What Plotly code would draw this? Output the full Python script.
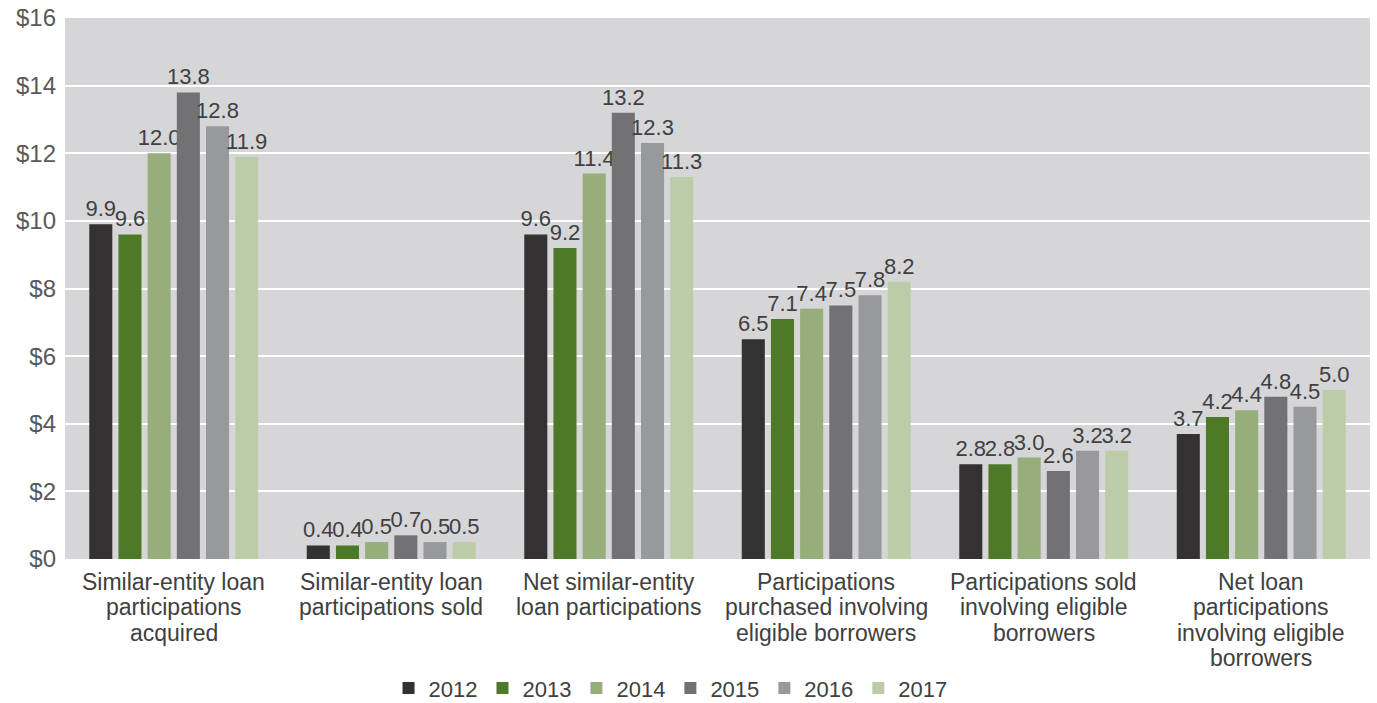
import plotly.graph_objects as go

categories = [
    "Similar-entity loan participations acquired",
    "Similar-entity loan participations sold",
    "Net similar-entity loan participations",
    "Participations purchased involving eligible borrowers",
    "Participations sold involving eligible borrowers",
    "Net loan participations involving eligible borrowers",
]
category_lines = [
    ["Similar-entity loan", "participations", "acquired"],
    ["Similar-entity loan", "participations sold"],
    ["Net similar-entity", "loan participations"],
    ["Participations", "purchased involving", "eligible borrowers"],
    ["Participations sold", "involving eligible", "borrowers"],
    ["Net loan", "participations", "involving eligible", "borrowers"],
]
years = ["2012", "2013", "2014", "2015", "2016", "2017"]
values = {
    "2012": [9.9, 0.4, 9.6, 6.5, 2.8, 3.7],
    "2013": [9.6, 0.4, 9.2, 7.1, 2.8, 4.2],
    "2014": [12.0, 0.5, 11.4, 7.4, 3.0, 4.4],
    "2015": [13.8, 0.7, 13.2, 7.5, 2.6, 4.8],
    "2016": [12.8, 0.5, 12.3, 7.8, 3.2, 4.5],
    "2017": [11.9, 0.5, 11.3, 8.2, 3.2, 5.0],
}
colors = ["#333132", "#4e7a27", "#96ad7c", "#727275", "#97999b", "#bccca8"]
y_ticks = [0, 2, 4, 6, 8, 10, 12, 14, 16]
y_ticklabels = ["$0", "$2", "$4", "$6", "$8", "$10", "$12", "$14", "$16"]

font_family = "Liberation Sans, Arial, sans-serif"
text_color = "#404040"

fig = go.Figure()
for yr, col in zip(years, colors):
    vals = values[yr]
    fig.add_trace(go.Bar(
        name=yr,
        x=categories,
        y=vals,
        marker=dict(color=col, line=dict(width=0)),
        text=[f"{v:.1f}" for v in vals],
        textposition="outside",
        constraintext="none",
        cliponaxis=False,
        textfont=dict(size=22, color=text_color, family=font_family),
    ))

# Category labels, one annotation per line for tight line spacing
annotations = []
for cat, lines in zip(categories, category_lines):
    for i, line in enumerate(lines):
        annotations.append(dict(
            x=cat, xref="x",
            y=0, yref="paper",
            yanchor="middle",
            yshift=-(23 + 25.3 * i),
            text=line,
            showarrow=False,
            font=dict(size=23, color=text_color, family=font_family),
        ))

fig.update_layout(
    width=1377,
    height=703,
    barmode="group",
    bargap=0.195,
    bargroupgap=0.21,
    plot_bgcolor="#d6d6d9",
    paper_bgcolor="#ffffff",
    margin=dict(l=65, r=7, t=18, b=144, autoexpand=False),
    font=dict(family=font_family, size=22, color=text_color),
    showlegend=True,
    annotations=annotations,
    legend=dict(
        orientation="h",
        x=0.464, xanchor="center",
        yref="container",
        y=0.021, yanchor="middle",
        font=dict(size=22, color=text_color),
        itemwidth=30,
        tracegroupgap=0,
    ),
    xaxis=dict(
        showgrid=False,
        showticklabels=False,
        ticks="",
        automargin=False,
        linecolor="#ffffff",
    ),
    yaxis=dict(
        range=[0, 16],
        tickvals=y_ticks,
        ticktext=y_ticklabels,
        showgrid=True,
        gridcolor="#ffffff",
        gridwidth=2,
        zeroline=False,
        tickfont=dict(size=24, color="#595959"),
        ticks="",
        ticklabelstandoff=8,
        automargin=False,
    ),
)

fig.write_html("out.html")
